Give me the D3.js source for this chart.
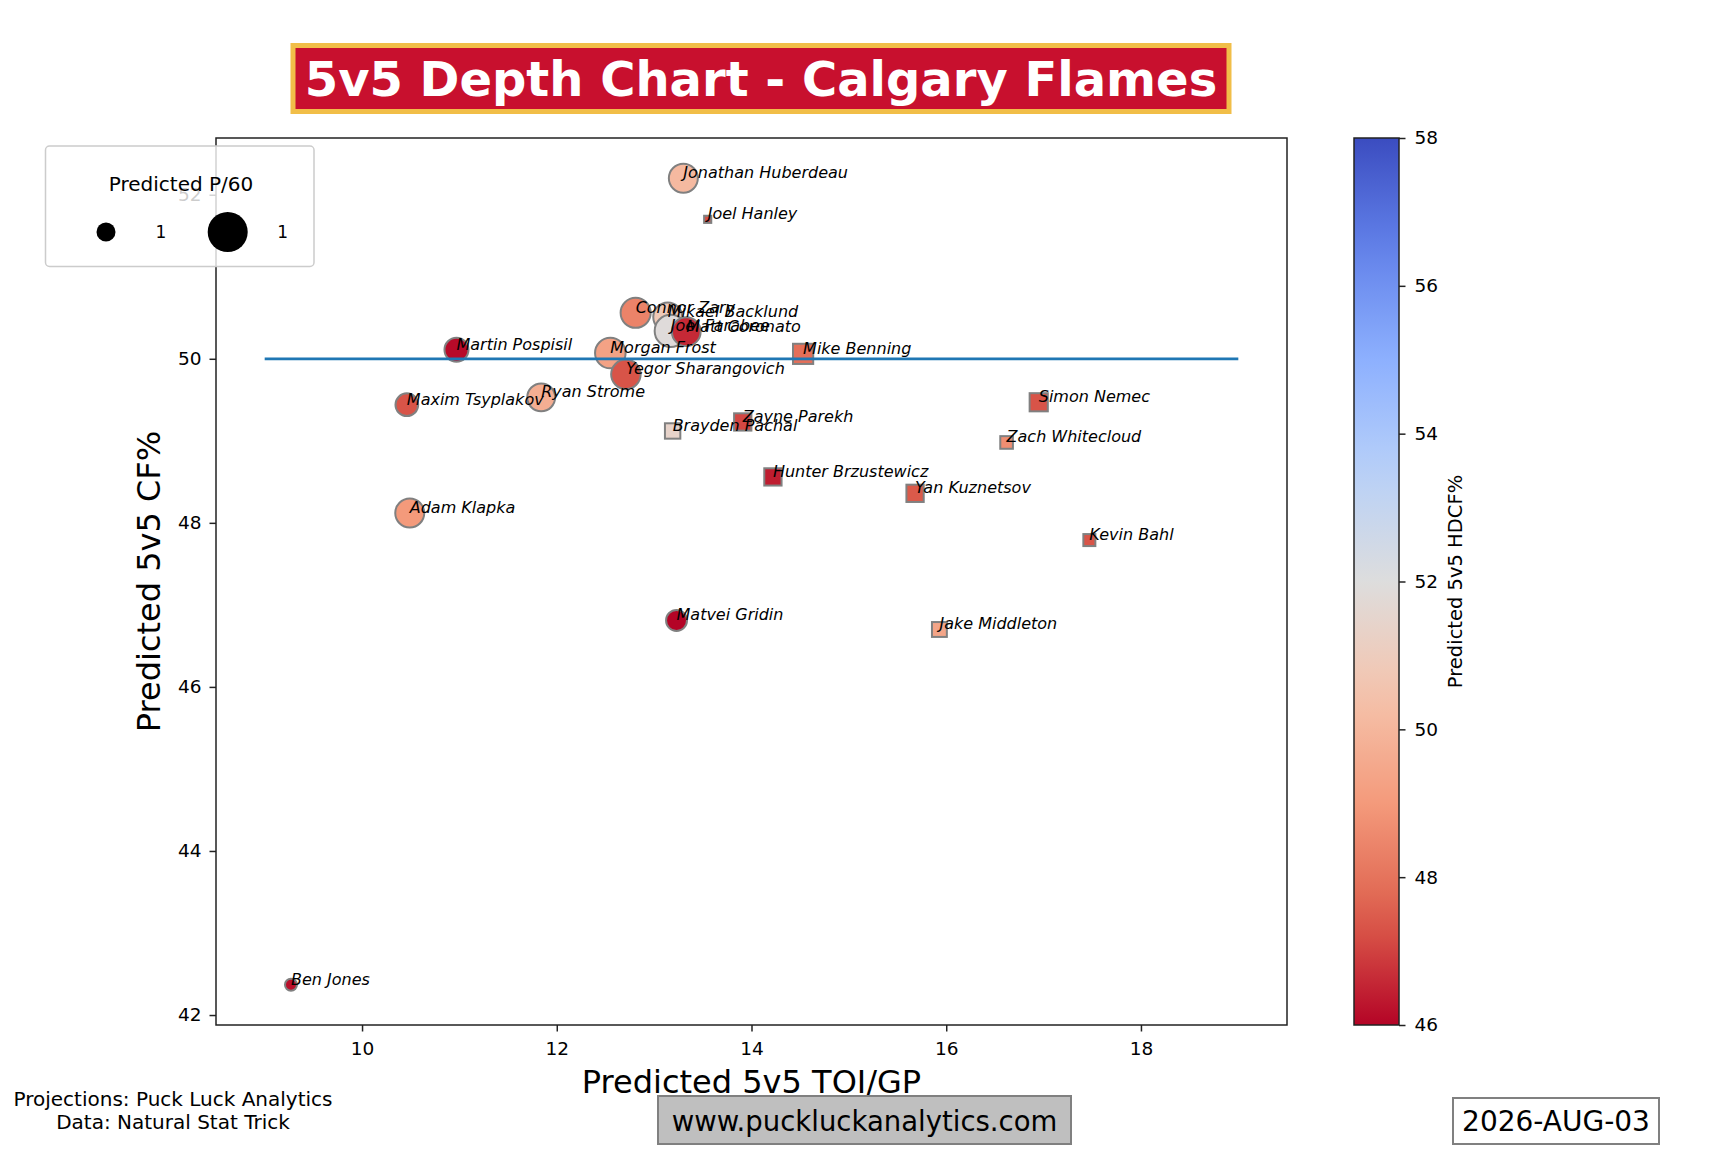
<!DOCTYPE html>
<html>
<head>
<meta charset="utf-8">
<title>5v5 Depth Chart - Calgary Flames</title>
<script src="https://d3js.org/d3.v7.min.js"></script>
<style>
  body { margin: 0; background: #fff; }
  svg { display: block; font-family: "DejaVu Sans", sans-serif; }
  .axis .domain { display: none; }
  .axis .tick line { stroke: #222; stroke-width: 1.5px; }
  .axis .tick text { font-size: 18.5px; fill: #000; font-family: "DejaVu Sans", sans-serif; }
  .player-label { font-size: 16px; font-style: italic; fill: #000; }
</style>
</head>
<body>
<div id="chart"></div>
<script>
// player data
const players = ["Ben Jones", "Maxim Tsyplakov", "Adam Klapka", "Martin Pospisil", "Ryan Strome",
  "Morgan Frost", "Yegor Sharangovich", "Connor Zary", "Mikael Backlund", "Joel Farabee",
  "Matvei Gridin", "Jonathan Huberdeau", "Matt Coronato",
  "Brayden Pachal", "Joel Hanley", "Zayne Parekh", "Hunter Brzustewicz", "Mike Benning",
  "Yan Kuznetsov", "Jake Middleton", "Zach Whitecloud", "Simon Nemec", "Kevin Bahl"];
const positions = ["F", "F", "F", "F", "F", "F", "F", "F", "F", "F", "F", "F", "F",
  "D", "D", "D", "D", "D", "D", "D", "D", "D", "D"];
const toiGP = [9.27, 10.46, 10.49, 10.97, 11.84, 12.55, 12.71, 12.81, 13.14, 13.17, 13.23, 13.30, 13.33,
  13.19, 13.55, 13.91, 14.22, 14.53, 15.68, 15.93, 16.62, 16.95, 17.47];
const cfPct = [42.37, 49.44, 48.12, 50.11, 49.53, 50.07, 49.81, 50.56, 50.51, 50.34, 46.81, 52.20, 50.33,
  49.12, 51.70, 49.23, 48.56, 50.06, 48.36, 46.70, 48.98, 49.47, 47.79];
const hdcfPct = [46.2, 47.3, 49.0, 46.1, 49.7, 49.3, 47.3, 48.4, 50.8, 51.9, 46.0, 50.1, 46.6,
  51.4, 47.2, 47.1, 46.4, 47.9, 47.4, 49.4, 48.7, 47.3, 47.3];
const p60 = [0.46, 0.70, 0.91, 0.74, 0.87, 0.97, 0.93, 0.95, 0.91, 1.03, 0.65, 0.91, 0.90,
  0.52, 0.40, 0.56, 0.56, 0.63, 0.56, 0.51, 0.47, 0.58, 0.46];

const xTicks = [10, 12, 14, 16, 18];
const yTicks = [42, 44, 46, 48, 50, 52];
const cbarTicks = [46, 48, 50, 52, 54, 56, 58];
const avgLine = { from: 9, to: 19, cf: 50 };
const legendValues = [0.6, 1.4];

// matplotlib coolwarm
const coolwarmT = [0, 0.125, 0.25, 0.375, 0.5, 0.625, 0.75, 0.875, 1];
const coolwarmC = ["#3b4cc0", "#6282ea", "#8db0fe", "#b8d0f9", "#dddddd", "#f5c4ad", "#f49a7b", "#de604d", "#b40426"];
const coolwarm = d3.scaleLinear().domain(coolwarmT).range(coolwarmC).interpolate(d3.interpolateRgb);
const hdcfDomain = [46, 58];
const hdcfToT = d3.scaleLinear().domain(hdcfDomain).range([1, 0]).clamp(true);
const color = v => coolwarm(hdcfToT(v));

const W = 1728, H = 1152;
const plot = { left: 216, right: 1287, top: 138, bottom: 1025 };

const svg = d3.select("#chart").append("svg").attr("width", W).attr("height", H);

// scales with matplotlib-like 5% margins
const xExt = [avgLine.from, avgLine.to];
const yExt = d3.extent(cfPct);
const xPad = (xExt[1] - xExt[0]) * 0.05, yPad = (yExt[1] - yExt[0]) * 0.05;
const x = d3.scaleLinear().domain([xExt[0] - xPad, xExt[1] + xPad]).range([plot.left, plot.right]);
const y = d3.scaleLinear().domain([yExt[0] - yPad, yExt[1] + yPad]).range([plot.bottom, plot.top]);
const area = d3.scaleLinear().domain(legendValues).range([Math.PI * 9.5 * 9.5, Math.PI * 20 * 20]);
const radius = v => Math.sqrt(Math.max(area(v), 1) / Math.PI);

const data = players.map((name, i) => ({
  name, pos: positions[i], toi: toiGP[i], cf: cfPct[i], hdcf: hdcfPct[i], p60: p60[i]
}));

// axes
svg.append("g").attr("class", "axis")
  .attr("transform", `translate(0,${plot.bottom})`)
  .call(d3.axisBottom(x).tickValues(xTicks).tickSize(6.5).tickPadding(10).tickFormat(d3.format("d")));
svg.append("g").attr("class", "axis")
  .attr("transform", `translate(${plot.left},0)`)
  .call(d3.axisLeft(y).tickValues(yTicks).tickSize(6.5).tickPadding(8).tickFormat(d3.format("d")));

// markers
const marks = svg.append("g");
marks.selectAll("circle").data(data.filter(d => d.pos === "F")).join("circle")
  .attr("cx", d => x(d.toi)).attr("cy", d => y(d.cf)).attr("r", d => radius(d.p60))
  .attr("fill", d => color(d.hdcf)).attr("stroke", "#808080").attr("stroke-width", 2);
marks.selectAll("rect").data(data.filter(d => d.pos === "D")).join("rect")
  .attr("x", d => x(d.toi) - radius(d.p60)).attr("y", d => y(d.cf) - radius(d.p60))
  .attr("width", d => 2 * radius(d.p60)).attr("height", d => 2 * radius(d.p60))
  .attr("fill", d => color(d.hdcf)).attr("stroke", "#808080").attr("stroke-width", 2);

// 50% line
svg.append("line")
  .attr("x1", x(avgLine.from)).attr("x2", x(avgLine.to))
  .attr("y1", y(avgLine.cf)).attr("y2", y(avgLine.cf))
  .attr("stroke", "#1f77b4").attr("stroke-width", 2.8);

// names
svg.append("g").selectAll("text").data(data).join("text")
  .attr("class", "player-label")
  .attr("x", d => x(d.toi)).attr("y", d => y(d.cf))
  .text(d => d.name);

// frame
svg.append("rect")
  .attr("x", plot.left).attr("y", plot.top)
  .attr("width", plot.right - plot.left).attr("height", plot.bottom - plot.top)
  .attr("fill", "none").attr("stroke", "#222").attr("stroke-width", 1.5);

// axis labels
svg.append("text").attr("x", (plot.left + plot.right) / 2).attr("y", 1093)
  .attr("text-anchor", "middle").style("font-size", "32px").text("Predicted 5v5 TOI/GP");
svg.append("text").attr("transform", `translate(160,${(plot.top + plot.bottom) / 2}) rotate(-90)`)
  .attr("text-anchor", "middle").style("font-size", "32px").text("Predicted 5v5 CF%");

// legend
const lg = svg.append("g");
lg.append("rect").attr("x", 45.5).attr("y", 146).attr("width", 268.5).attr("height", 120.5).attr("rx", 4)
  .attr("fill", "#fff").attr("fill-opacity", 0.8).attr("stroke", "#cccccc").attr("stroke-width", 1.5);
lg.append("text").attr("x", 181).attr("y", 190.5).attr("text-anchor", "middle")
  .style("font-size", "20px").text("Predicted P/60");
const legendX = [106, 227.7];
lg.selectAll("circle.lgm").data(legendValues).join("circle").attr("class", "lgm")
  .attr("cx", (d, i) => legendX[i]).attr("cy", 232).attr("r", d => radius(d)).attr("fill", "#000");
lg.selectAll("text.lgl").data(legendValues).join("text").attr("class", "lgl")
  .attr("x", (d, i) => legendX[i] + 55).attr("y", 238).attr("text-anchor", "middle")
  .style("font-size", "17px").text(d => d3.format(".0f")(d));

// colorbar
const cb = { left: 1354, right: 1399 };
const grad = svg.append("defs").append("linearGradient").attr("id", "cbar")
  .attr("x1", 0).attr("y1", 1).attr("x2", 0).attr("y2", 0);
d3.range(0, 1.0001, 0.05).forEach(t => {
  grad.append("stop").attr("offset", t).attr("stop-color", color(hdcfDomain[0] + t * (hdcfDomain[1] - hdcfDomain[0])));
});
const cy = d3.scaleLinear().domain(hdcfDomain).range([plot.bottom, plot.top]);
svg.append("rect").attr("x", cb.left).attr("y", plot.top).attr("width", cb.right - cb.left)
  .attr("height", plot.bottom - plot.top).attr("fill", "url(#cbar)").attr("stroke", "#222").attr("stroke-width", 1.5);
svg.append("g").attr("class", "axis").attr("transform", `translate(${cb.right},0)`)
  .call(d3.axisRight(cy).tickValues(cbarTicks).tickSize(6.5).tickPadding(9).tickFormat(d3.format("d")));
svg.append("text").attr("transform", `translate(1462,${(plot.top + plot.bottom) / 2}) rotate(-90)`)
  .attr("text-anchor", "middle").style("font-size", "19.5px").text("Predicted 5v5 HDCF%");

// title
svg.append("rect").attr("x", 293).attr("y", 45.5).attr("width", 936).attr("height", 66)
  .attr("fill", "#c8102e").attr("stroke", "#f1be48").attr("stroke-width", 5);
svg.append("text").attr("x", 761).attr("y", 96).attr("text-anchor", "middle")
  .style("font-size", "48px").style("font-weight", "bold").attr("fill", "#fff")
  .text("5v5 Depth Chart - Calgary Flames");

// footer
const credits = ["Projections: Puck Luck Analytics", "Data: Natural Stat Trick"];
svg.append("g").selectAll("text").data(credits).join("text")
  .attr("x", 173).attr("y", (d, i) => 1106 + i * 22.5).attr("text-anchor", "middle")
  .style("font-size", "20px").text(d => d);

svg.append("rect").attr("x", 658).attr("y", 1096).attr("width", 413).attr("height", 48)
  .attr("fill", "#bfbfbf").attr("stroke", "#808080").attr("stroke-width", 2);
svg.append("text").attr("x", 864.5).attr("y", 1131).attr("text-anchor", "middle")
  .style("font-size", "27.5px").text("www.puckluckanalytics.com");

svg.append("rect").attr("x", 1453).attr("y", 1098).attr("width", 206).attr("height", 46)
  .attr("fill", "#fff").attr("stroke", "#808080").attr("stroke-width", 2);
svg.append("text").attr("x", 1556).attr("y", 1131).attr("text-anchor", "middle")
  .style("font-size", "28px").text("2026-AUG-03");
</script>
</body>
</html>
